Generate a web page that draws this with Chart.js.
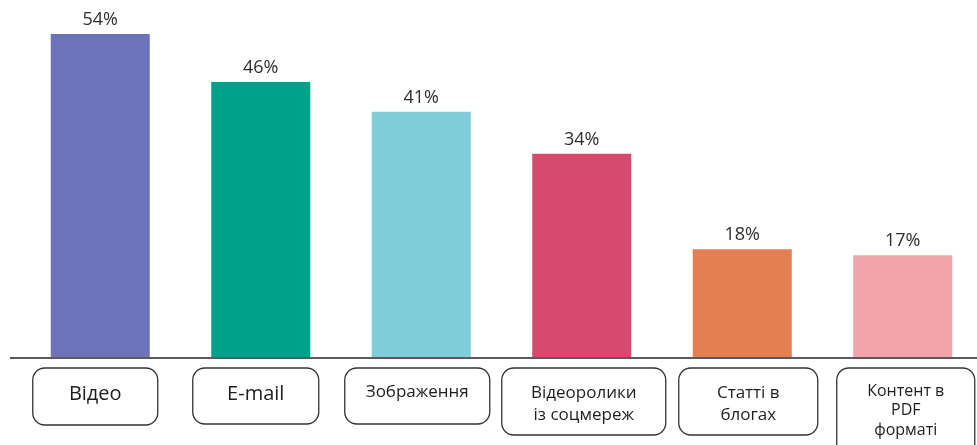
<!DOCTYPE html>
<html>
<head>
<meta charset="utf-8">
<script src="https://cdn.jsdelivr.net/npm/chart.js@4"></script>
<style>
  html, body { margin: 0; padding: 0; background: #fff; overflow: hidden; }
  #wrap { width: 990px; height: 445px; }
</style>
</head>
<body>
<div id="wrap"><canvas id="chart" width="990" height="445"></canvas></div>
<script>
const categories = [
    ["Відео"],
    ["E-mail"],
    ["Зображення"],
    ["Відеоролики", "із соцмереж"],
    ["Статті в", "блогах"],
    ["Контент в", "PDF", "форматі"]
];
const values = [54, 46, 41, 34, 18, 17];
const barColors = ["#6c73b8", "#00a08b", "#80cddb", "#d8496e", "#e47f52", "#f3a4ab"];

// label boxes under the axis
const boxStyle = [
    { dx: -5, w: 125, h: 57, size: 20, ty: 26, lh: 22 },
    { dx: -5, w: 126, h: 56, size: 20, ty: 26, lh: 22 },
    { dx: -4, w: 145, h: 56, size: 17, ty: 24, lh: 22 },
    { dx: 2, w: 164, h: 67, size: 17, ty: 25, lh: 22 },
    { dx: 6, w: 139, h: 67, size: 17, ty: 25, lh: 22 },
    { dx: 3, w: 138, h: 90, size: 16, ty: 23, lh: 19.5 }
];

const decor = {
    id: "decor",
    afterDatasetsDraw(chart) {
        const ctx = chart.ctx;
        const x = chart.scales.x;
        const y = chart.scales.y;
        const base = y.getPixelForValue(0);

        // value labels
        ctx.save();
        ctx.font = "18px 'Open Sans'";
        ctx.fillStyle = "#2e2e2e";
        ctx.textAlign = "center";
        ctx.textBaseline = "middle";
        chart.getDatasetMeta(0).data.forEach((bar, i) => {
            ctx.fillText(values[i] + "%", bar.x, bar.y - 14);
        });

        // baseline
        ctx.strokeStyle = "#5a5a5a";
        ctx.lineWidth = 2;
        ctx.beginPath();
        ctx.moveTo(10, base + 1);
        ctx.lineTo(chart.width, base + 1);
        ctx.stroke();

        // category boxes
        categories.forEach((lines, i) => {
            const s = boxStyle[i];
            const cx = x.getPixelForValue(i) + s.dx;
            const top = base + 11;
            ctx.strokeStyle = "#333";
            ctx.lineWidth = 1.3;
            ctx.beginPath();
            ctx.roundRect(cx - s.w / 2, top, s.w, s.h, 12);
            ctx.stroke();
            ctx.fillStyle = "#1e1e1e";
            ctx.font = s.size + "px 'Open Sans'";
            lines.forEach((t, j) => {
                ctx.fillText(t, cx, top + s.ty + j * s.lh);
            });
        });
        ctx.restore();
    }
};

new Chart(document.getElementById("chart"), {
    type: "bar",
    data: {
        labels: categories,
        datasets: [{
            data: values,
            backgroundColor: barColors,
            borderWidth: 0,
            barPercentage: 0.617,
            categoryPercentage: 1
        }]
    },
    options: {
        responsive: false,
        animation: false,
        layout: { padding: { left: 20, right: 7, top: 0, bottom: 88 } },
        plugins: {
            legend: { display: false },
            tooltip: { enabled: false }
        },
        scales: {
            x: { display: false },
            y: { display: false, min: 0, max: 59.7 }
        }
    },
    plugins: [decor]
});
</script>
</body>
</html>
